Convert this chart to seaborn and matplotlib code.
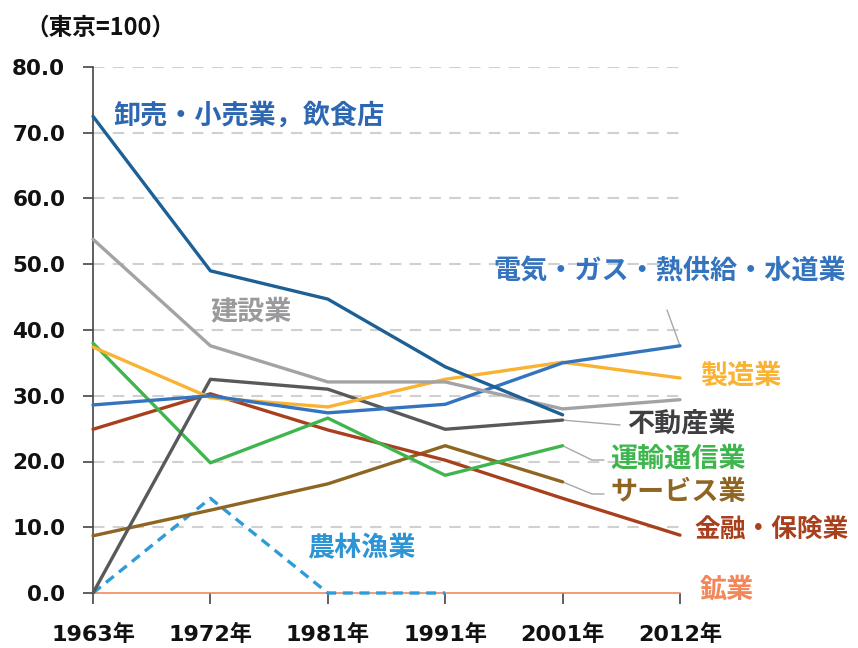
import numpy as np
import pandas as pd
import matplotlib
matplotlib.use("Agg")
import matplotlib.pyplot as plt
import seaborn as sns

sns.set_theme(style="white")
plt.rcParams['font.family'] = ['Noto Sans CJK JP', 'DejaVu Sans']

years = ["1963年", "1972年", "1981年", "1991年", "2001年", "2012年"]

wholesale_retail = [72.5, 49.0, 44.7, 34.4, 27.1, np.nan]
construction = [53.8, 37.6, 32.1, 32.1, 28.0, 29.4]
manufacturing = [37.4, 29.7, 28.3, 32.5, 35.1, 32.7]
utilities = [28.6, 30.0, 27.4, 28.7, 35.0, 37.6]
real_estate = [0.0, 32.5, 31.0, 24.9, 26.3, np.nan]
transport_comm = [38.0, 19.8, 26.6, 17.9, 22.4, np.nan]
services = [8.7, 12.6, 16.6, 22.4, 16.9, np.nan]
finance_insurance = [24.9, 30.3, 24.8, 20.2, 14.4, 8.8]
agri_forestry_fish = [0.0, 14.4, 0.0, 0.0, np.nan, np.nan]
mining = [0.0, 0.0, 0.0, 0.0, 0.0, 0.0]

series = {
    "卸売・小売業，飲食店": wholesale_retail,
    "建設業": construction,
    "製造業": manufacturing,
    "電気・ガス・熱供給・水道業": utilities,
    "不動産業": real_estate,
    "運輸通信業": transport_comm,
    "サービス業": services,
    "金融・保険業": finance_insurance,
    "農林漁業": agri_forestry_fish,
    "鉱業": mining,
}

line_colors = {
    "卸売・小売業，飲食店": "#1d6096",
    "建設業": "#a3a3a6",
    "製造業": "#f9b232",
    "電気・ガス・熱供給・水道業": "#3473bd",
    "不動産業": "#58595b",
    "運輸通信業": "#3fb54e",
    "サービス業": "#8e6522",
    "金融・保険業": "#a8401e",
    "農林漁業": "#2f9bd9",
    "鉱業": "#f3875a",
}
text_colors = dict(line_colors)
text_colors["卸売・小売業，飲食店"] = "#2e67b1"
text_colors["建設業"] = "#9a9a9c"
text_colors["不動産業"] = "#3f3f41"
text_colors["農林漁業"] = "#2e95d4"

fig = plt.figure(figsize=(8.58, 6.48), dpi=100)
ax = fig.add_axes([93 / 858, 1 - 593 / 648, (680 - 93) / 858, (593 - 67) / 648])

x = np.arange(len(years))
draw_order = ["鉱業", "農林漁業", "サービス業", "金融・保険業", "運輸通信業", "不動産業",
              "製造業", "電気・ガス・熱供給・水道業", "建設業", "卸売・小売業，飲食店"]
for name in draw_order:
    vals = np.array(series[name], dtype=float)
    mask = ~np.isnan(vals)
    df = pd.DataFrame({"x": x[mask], "y": vals[mask]})
    lw = 1.2 if name == "鉱業" else 2.4
    ls = (0, (3, 2)) if name == "農林漁業" else "-"
    sns.lineplot(data=df, x="x", y="y", ax=ax, color=line_colors[name], linewidth=lw,
                 linestyle=ls, clip_on=False, zorder=3, estimator=None, sort=False)

ax.set_xlim(0, 5)
ax.set_ylim(0, 80)
ax.set_xlabel("")
ax.set_ylabel("")
ax.set_yticks(np.arange(0, 81, 10))
ax.set_yticklabels([f"{v:.1f}" for v in np.arange(0, 81, 10)], fontsize=15.5,
                   fontweight="bold", family=['DejaVu Sans'], color="#111111")
ax.set_xticks(x)
ax.set_xticklabels(years, fontsize=16, fontweight="bold",
                   family=['DejaVu Sans', 'Noto Sans CJK JP'], color="#111111")
for v in np.arange(10, 81, 10):
    ax.axhline(v, color="#d0d0d0", linewidth=1.5, linestyle=(0, (5.5, 4)), zorder=1)

for side in ["top", "right", "bottom"]:
    ax.spines[side].set_visible(False)
ax.spines["left"].set_color("#444444")
ax.spines["left"].set_linewidth(1.2)
ax.tick_params(axis="y", direction="out", length=7, width=1.2, color="#444444", pad=13,
               left=True)
ax.tick_params(axis="x", direction="out", length=8, width=1.2, color="#444444", pad=14,
               bottom=True)
ax.grid(False)

fig.text(25 / 858, 1 - 28 / 648, "（東京=100）", fontsize=17, fontweight="bold",
         color="#111111", va="center", ha="left")

# series labels
def label(name, px, py, size=19.5):
    fig.text(px / 858, 1 - py / 648, name, fontsize=size, fontweight="bold",
             color=text_colors[name], va="center", ha="left")

label("卸売・小売業，飲食店", 113, 116)
label("建設業", 210, 312)
label("電気・ガス・熱供給・水道業", 493, 272)
label("製造業", 700, 376)
label("不動産業", 627, 424)
label("運輸通信業", 610, 459)
label("サービス業", 610, 492)
label("金融・保険業", 694, 530, size=18.5)
label("農林漁業", 307, 548)
label("鉱業", 700, 590)

# leader lines from series ends to their labels
leader_color = "#a8a8a8"
inv = ax.transData.inverted()
def to_data(px, py):
    return inv.transform(fig.transFigure.transform((px / 858, 1 - py / 648)))

leaders = [
    ((5, utilities[5]), [(667, 310)]),
    ((4, real_estate[4]), [(620, 425)]),
    ((4, transport_comm[4]), [(592, 460), (604, 460)]),
    ((4, services[4]), [(592, 494), (604, 494)]),
]
for start, pts in leaders:
    xs = [start[0]] + [to_data(*p)[0] for p in pts]
    ys = [start[1]] + [to_data(*p)[1] for p in pts]
    ax.plot(xs, ys, color=leader_color, linewidth=1.0, clip_on=False, zorder=2)

fig.savefig("out.png", dpi=100)
